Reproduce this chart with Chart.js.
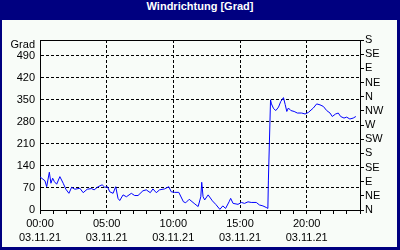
<!DOCTYPE html>
<html>
<head>
<meta charset="utf-8">
<script src="https://cdn.jsdelivr.net/npm/chart.js@4"></script>
<style>
    html, body { margin: 0; padding: 0; }
    body { width: 400px; height: 250px; background: #000080; position: relative; overflow: hidden; }
    #title {
        position: absolute; left: 0; top: 0; width: 400px; height: 20px;
        line-height: 18px; text-align: center; color: #fff;
        font: bold 11px "Liberation Sans", Arial, sans-serif;
    }
    #box { position: absolute; left: 2px; top: 20px; width: 395px; height: 227px; background: #f8fcf8; }
</style>
</head>
<body>
<div id="title">Windrichtung [Grad]</div>
<div id="box"><canvas id="windChart"></canvas></div>
<script>
// Time of day in hours, wind direction in degrees
const hours = [
    0.00, 0.37, 0.50, 0.70, 0.82, 0.95, 1.08, 1.25, 1.49, 1.74, 1.94, 2.17, 2.37, 2.62, 2.99,
    3.24, 3.54, 3.86, 4.06, 4.36, 4.66, 4.86, 5.06, 5.23, 5.48, 5.68, 5.85, 5.98, 6.23, 6.48,
    6.85, 7.10, 7.35, 7.72, 7.97, 8.27, 8.47, 8.72, 8.97, 9.34, 9.66, 9.84, 10.09, 10.41, 10.76,
    10.93, 11.19, 11.56, 11.86, 12.06, 12.13, 12.23, 12.35, 12.61, 12.93, 13.18, 13.49, 13.71, 13.92, 14.18,
    14.30, 14.48, 14.85, 15.10, 15.34, 15.60, 15.84, 16.22, 16.46, 16.72, 16.97, 17.09, 17.13, 17.29, 17.36,
    17.52, 17.69, 17.89, 18.06, 18.18, 18.26, 18.39, 18.51, 18.63, 18.81, 19.06, 19.30, 19.63, 19.88, 20.13,
    20.50, 20.75, 21.00, 21.25, 21.50, 21.75, 21.92, 22.17, 22.37, 22.55, 22.80, 23.00, 23.24, 23.49, 23.69
];
const direction = [
    105, 93, 74, 120, 85, 101, 90, 82, 106, 85, 66, 53, 72, 66, 69,
    55, 66, 68, 64, 74, 80, 72, 74, 58, 53, 74, 37, 30, 48, 42,
    53, 46, 46, 61, 64, 55, 67, 55, 64, 67, 74, 58, 56, 56, 26,
    23, 34, 21, 11, 42, 88, 42, 32, 48, 29, 18, 2, 13, 5, 26,
    37, 21, 18, 24, 21, 26, 24, 24, 16, 13, 8, 5, 95, 350, 337,
    322, 316, 327, 345, 352, 357, 335, 313, 324, 316, 313, 308, 308, 305, 310,
    324, 337, 334, 329, 316, 308, 297, 305, 308, 297, 292, 295, 289, 292, 297
];
const dateLabel = '03.11.21';
const degreeTicks = [0, 70, 140, 210, 280, 350, 420, 490];
const compassTicks = [0, 45, 90, 135, 180, 225, 270, 315, 360, 405, 450, 495, 540];
const compassLabels = ['N', 'NE', 'E', 'SE', 'S', 'SW', 'W', 'NW', 'N', 'NE', 'E', 'SE', 'S'];

const font = { family: '"Liberation Sans", Arial, sans-serif', size: 11, lineHeight: 1.3 };
const dash = [3, 2];

// "Grad" unit caption above the left axis
const unitLabel = {
    id: 'unitLabel',
    afterDraw(chart) {
        const ctx = chart.ctx;
        const y = chart.scales.y;
        ctx.save();
        ctx.fillStyle = '#000';
        ctx.font = '11px "Liberation Sans", Arial, sans-serif';
        ctx.textAlign = 'right';
        ctx.textBaseline = 'middle';
        ctx.fillText('Grad', y.right - 5, chart.chartArea.top + 5);
        ctx.restore();
    }
};

new Chart(document.getElementById('windChart'), {
    type: 'line',
    data: {
        datasets: [{
            data: hours.map((h, i) => ({ x: h, y: direction[i] })),
            borderColor: '#0000ff',
            borderWidth: 1,
            pointRadius: 0,
            tension: 0,
            xAxisID: 'x',
            yAxisID: 'y'
        }]
    },
    options: {
        responsive: true,
        maintainAspectRatio: false,
        animation: false,
        layout: { padding: { top: 20, left: 0, right: 0, bottom: 0 } },
        plugins: { legend: { display: false }, tooltip: { enabled: false } },
        scales: {
            x: {
                type: 'linear', position: 'bottom', min: 0, max: 24,
                afterFit: s => { s.height = 37; },
                ticks: {
                    stepSize: 1, autoSkip: false, maxRotation: 0, padding: 3,
                    color: '#000', font,
                    callback: v => v % 5 === 0 ? [String(v).padStart(2, '0') + ':00', dateLabel] : ''
                },
                grid: {
                    color: c => (c.tick && c.tick.value % 5 === 0 && c.tick.value > 0) ? '#000' : 'rgba(0,0,0,0)',
                    tickColor: '#000', tickLength: 4
                },
                border: { color: '#000', dash }
            },
            x2: {
                type: 'linear', position: 'top', min: 0, max: 24,
                afterFit: s => { s.height = 0; },
                ticks: { display: false },
                grid: { display: false },
                border: { color: '#000' }
            },
            y: {
                position: 'left', min: 0, max: 540,
                afterBuildTicks: s => { s.ticks = degreeTicks.map(v => ({ value: v })); },
                afterFit: s => { s.width = 38; },
                ticks: { color: '#000', font, padding: 5, autoSkip: false },
                grid: {
                    color: c => (c.tick && c.tick.value > 0) ? '#000' : 'rgba(0,0,0,0)',
                    drawTicks: false
                },
                border: { color: '#000', dash }
            },
            y2: {
                position: 'right', min: 0, max: 540,
                afterBuildTicks: s => { s.ticks = compassTicks.map(v => ({ value: v })); },
                afterFit: s => { s.width = 37; },
                ticks: {
                    color: '#000', font: { ...font, lineHeight: 1 }, padding: 1, autoSkip: false,
                    callback: (v, i) => compassLabels[i]
                },
                grid: { drawOnChartArea: false, color: '#000', tickLength: 4 },
                border: { color: '#000' }
            }
        }
    },
    plugins: [unitLabel]
});
</script>
</body>
</html>
